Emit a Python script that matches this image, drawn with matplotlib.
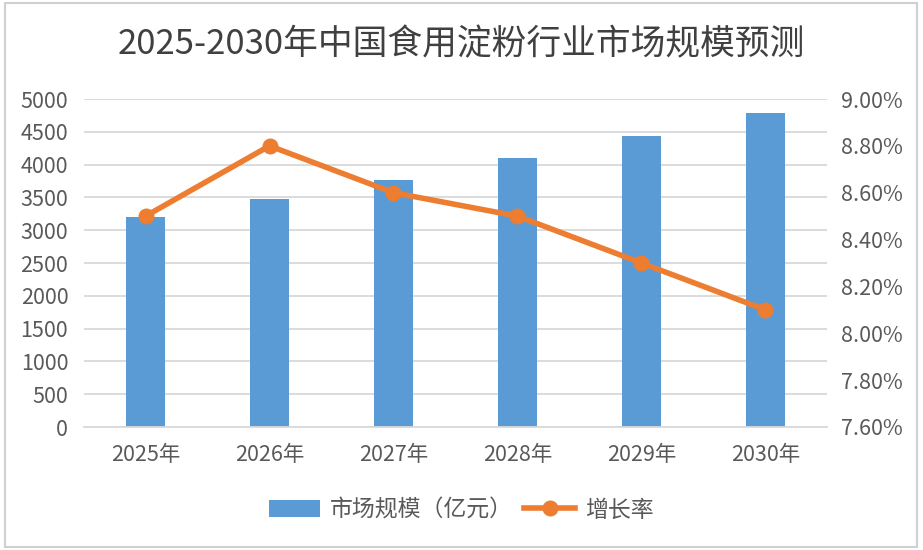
import matplotlib
matplotlib.use("Agg")
import matplotlib.pyplot as plt
from matplotlib.patches import Rectangle
from matplotlib.ticker import FuncFormatter, MultipleLocator

plt.rcParams['font.family'] = ['Noto Sans CJK SC', 'DejaVu Sans']

years = ["2025年", "2026年", "2027年", "2028年", "2029年", "2030年"]
market_size = [3200, 3480, 3770, 4100, 4440, 4790]
growth_rate = [8.5, 8.8, 8.6, 8.5, 8.3, 8.1]
title = "2025-2030年中国食用淀粉行业市场规模预测"
bar_label = "市场规模（亿元）"
line_label = "增长率"

bar_color = "#5B9BD5"
line_color = "#ED7D31"
text_color = "#595959"
grid_color = "#D9D9D9"

fig = plt.figure(figsize=(9.23, 5.5), dpi=100)
fig.patch.set_facecolor("white")
fig.patches.append(Rectangle((5/923, 3/550), 912/923, 544/550, transform=fig.transFigure,
                             fill=False, edgecolor="#D0D0D0", linewidth=1.5))

ax = fig.add_axes([83.5/923, 1-427/550, 744/923, 328/550])
x = list(range(len(years)))
bars = ax.bar(x, market_size, width=0.315, color=bar_color, label=bar_label, zorder=2)
ax.set_xlim(-0.5, len(years)-0.5)
ax.set_ylim(0, 5000)
ax.yaxis.set_major_locator(MultipleLocator(500))
ax.grid(axis='y', color=grid_color, linewidth=1.3, zorder=0)
ax.set_axisbelow(True)
for s in ax.spines.values():
    s.set_visible(False)
ax.spines['bottom'].set_visible(True)
ax.spines['bottom'].set_color(grid_color)
ax.spines['bottom'].set_linewidth(1.3)
ax.set_xticks(x)
ax.set_xticklabels(years)
ax.tick_params(axis='both', length=0, labelsize=15.5, colors=text_color)
ax.tick_params(axis='x', pad=12)
ax.tick_params(axis='y', pad=11)

ax2 = ax.twinx()
line, = ax2.plot(x, growth_rate, color=line_color, linewidth=4, marker='o',
                 markersize=10.5, label=line_label, zorder=3)
ax2.set_ylim(7.6, 9.0)
ax2.yaxis.set_major_locator(MultipleLocator(0.2))
ax2.yaxis.set_major_formatter(FuncFormatter(lambda v, p: f"{v:.2f}%"))
for s in ax2.spines.values():
    s.set_visible(False)
ax2.tick_params(axis='y', length=0, labelsize=15.5, colors=text_color, pad=10)

fig.text(0.5, 1-45/550, title, ha='center', va='center', fontsize=25, color="#404040")

fig.legend([bars, line], [bar_label, line_label], loc='center',
           bbox_to_anchor=(0.5, 1-510/550), ncol=2, frameon=False,
           fontsize=16.5, labelcolor=text_color, handlelength=2.2,
           handletextpad=0.45, columnspacing=0.5)

fig.savefig("out.png", dpi=100, facecolor="white")
